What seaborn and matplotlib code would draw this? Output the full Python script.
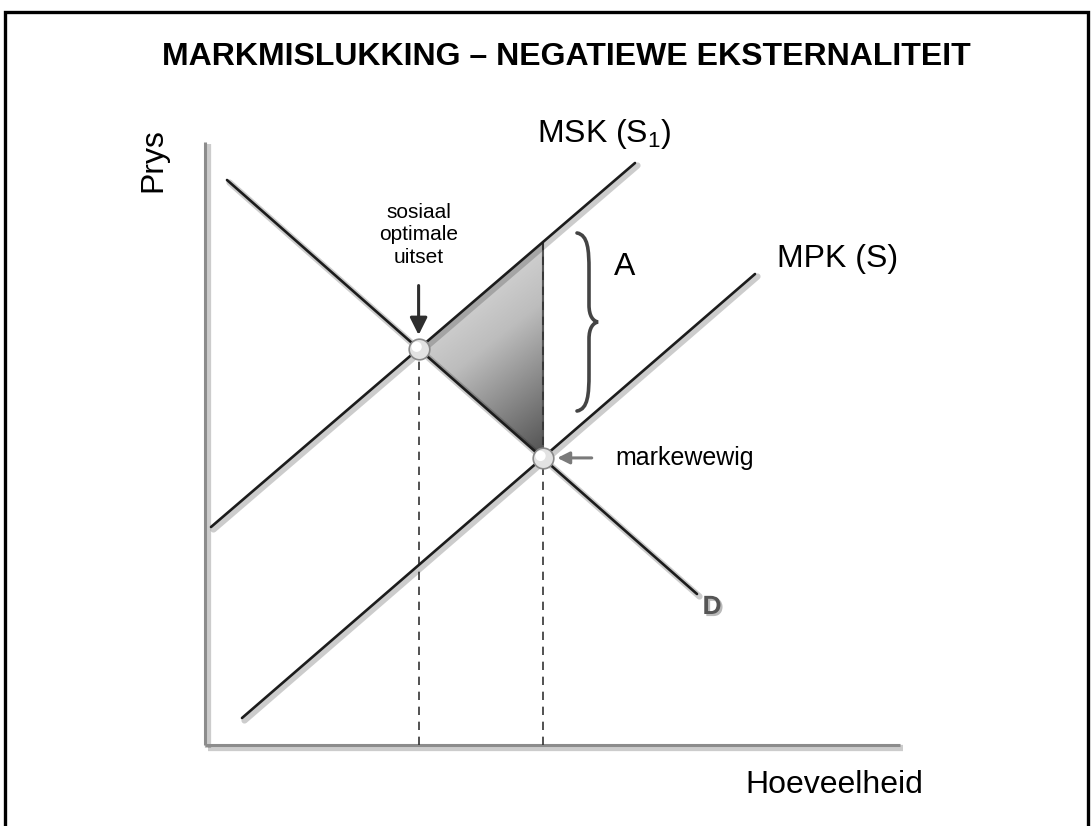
"""
Market failure diagram: negative externality (MSK vs MPK with demand D).
Run: python plot.py
"""

import numpy as np
import pandas as pd
import matplotlib
matplotlib.use("Agg")
import matplotlib.pyplot as plt
import matplotlib.patheffects as pe
from matplotlib.path import Path
from matplotlib.patches import PathPatch, Polygon, Rectangle
import seaborn as sns

# --- curve end points (quantity, price) ---
demand_q = [2.2, 49.2]
demand_p = [56.5, 15.1]
msk_q = [0.6, 43.0]
msk_p = [21.8, 58.2]
mpk_q = [3.7, 55.0]
mpk_p = [2.7, 47.1]
axis_q_max = 69.5
axis_p_max = 60.3

title = "MARKMISLUKKING – NEGATIEWE EKSTERNALITEIT"

sns.set_theme(style="white")
plt.rcParams["font.family"] = ["Liberation Sans", "DejaVu Sans"]
plt.rcParams["text.color"] = "black"
plt.rcParams["mathtext.fontset"] = "custom"
plt.rcParams["mathtext.rm"] = "Liberation Sans"
plt.rcParams["mathtext.it"] = "Liberation Sans"


def line_fit(qs, ps):
    slope = (ps[1] - ps[0]) / (qs[1] - qs[0])
    return slope, ps[0] - slope * qs[0]


def intersect(a, b):
    q = (b[1] - a[1]) / (a[0] - b[0])
    return q, a[0] * q + a[1]


d_line = line_fit(demand_q, demand_p)
msk_line = line_fit(msk_q, msk_p)
mpk_line = line_fit(mpk_q, mpk_p)
q_opt, p_opt = intersect(d_line, msk_line)
q_eq, p_eq = intersect(d_line, mpk_line)
p_top = msk_line[0] * q_eq + msk_line[1]

fig = plt.figure(figsize=(10.92, 8.26), dpi=100)
ax = fig.add_axes([0, 0, 1, 1])
ax.set_xlim(-20.5, 88.7)
ax.set_ylim(-8.1, 74.5)
ax.axis("off")

shadow = [pe.SimpleLineShadow(offset=(1.8, -1.8), shadow_color="k", alpha=0.22, linewidth=4.5),
          pe.Normal()]

# frame round the whole picture
fig.patches.append(Rectangle((5 / 1092, -0.05), (1088 - 5) / 1092, 1.05 - 12 / 826,
                             transform=fig.transFigure, fill=False, lw=2.4, ec="black"))

fig.text(566 / 1092, 1 - 57 / 826, title, ha="center", va="center",
         fontsize=23, fontweight="bold")

# --- axes ---
ax.plot([0, 0], [0, axis_p_max], color="#8c8c8c", lw=2.2, solid_capstyle="butt",
        path_effects=shadow, zorder=2)
ax.plot([0, axis_q_max], [0, 0], color="#8c8c8c", lw=2.2, solid_capstyle="butt",
        path_effects=shadow, zorder=2)

# --- shaded deadweight triangle with gradient ---
tri = Polygon([[q_opt, p_opt], [q_eq, p_top], [q_eq, p_eq]], closed=True,
              fc="none", ec="none")
ax.add_patch(tri)
gq, gp = np.meshgrid(np.linspace(q_opt, q_eq, 200), np.linspace(p_top, p_eq, 200))
grad = 0.45 * (gq - q_opt) / (q_eq - q_opt) + (p_top - gp) / (p_top - p_eq)
grad = grad / grad.max()
img = ax.imshow(grad, extent=[q_opt, q_eq, p_eq, p_top], origin="upper",
                cmap=sns.blend_palette(["#eeeeee", "#bdbdbd", "#505050"], as_cmap=True),
                aspect="auto", zorder=1, interpolation="bilinear")
img.set_clip_path(tri)
ax.plot([q_eq, q_eq], [p_eq, p_top], color="#555555", lw=1.5, zorder=1)

# --- dashed guides ---
ax.plot([q_opt, q_opt], [0, p_opt], color="#333333", lw=1.2, ls=(0, (5, 4)), zorder=2)
ax.plot([q_eq, q_eq], [0, p_top], color="#333333", lw=1.2, ls=(0, (5, 4)), zorder=2)

# --- curves ---
curves = pd.DataFrame({
    "curve": ["D", "D", "MSK", "MSK", "MPK", "MPK"],
    "q": demand_q + msk_q + mpk_q,
    "p": demand_p + msk_p + mpk_p,
})
for name, grp in curves.groupby("curve"):
    sns.lineplot(data=grp, x="q", y="p", ax=ax, color="#1c1c1c", lw=1.9,
                 sort=False, estimator=None, legend=False, zorder=3)
for ln in ax.lines[-3:]:
    ln.set_path_effects(shadow)

# --- equilibrium points ---
ax.scatter([q_opt, q_eq], [p_opt, p_eq], s=220, c="#e2e2e2", edgecolors="#8a8a8a",
           linewidths=1.2, zorder=5)
ax.scatter([q_opt - 0.2, q_eq - 0.2], [p_opt + 0.2, p_eq + 0.2], s=55, c="white",
           edgecolors="none", zorder=6)

# --- arrows and labels ---
ax.annotate("", xy=(q_opt, p_opt + 1.1), xytext=(q_opt, p_opt + 6.6),
            arrowprops=dict(arrowstyle="-|>", color="#2e2e2e", lw=2.2, mutation_scale=26))
ax.text(q_opt, 51.0, "sosiaal\noptimale\nuitset", ha="center", va="center",
        fontsize=15, linespacing=1.25)

ax.annotate("", xy=(q_eq + 1.2, p_eq), xytext=(q_eq + 5.2, p_eq),
            arrowprops=dict(arrowstyle="-|>", color="#7a7a7a", lw=2.2, mutation_scale=18))
ax.text(41.0, p_eq, "markewewig", ha="left", va="center", fontsize=18)

brace = Path(
    [(37.2, 51.2), (38.3, 51.0), (38.4, 49.5), (38.4, 47.5),
     (38.4, 44.0),
     (38.4, 42.9), (38.8, 42.4), (39.3, 42.3),
     (38.8, 42.2), (38.4, 41.7), (38.4, 40.6),
     (38.4, 37.1),
     (38.4, 35.1), (38.3, 33.6), (37.2, 33.4)],
    [Path.MOVETO, Path.CURVE4, Path.CURVE4, Path.CURVE4,
     Path.LINETO,
     Path.CURVE4, Path.CURVE4, Path.CURVE4,
     Path.CURVE4, Path.CURVE4, Path.CURVE4,
     Path.LINETO,
     Path.CURVE4, Path.CURVE4, Path.CURVE4])
ax.add_patch(PathPatch(brace, fc="none", ec="#444444", lw=2.6, capstyle="round", zorder=3))
ax.text(42.0, 47.0, "A", ha="center", va="baseline", fontsize=23)

ax.text(46.7, 60.3, "MSK (S$_1$)", ha="right", va="baseline", fontsize=23)
ax.text(57.2, 47.8, "MPK (S)", ha="left", va="baseline", fontsize=23)
ax.text(50.7, 13.8, "D", ha="center", va="center", fontsize=19, fontweight="bold",
        color="#555555",
        path_effects=[pe.withSimplePatchShadow(offset=(1.5, -1.5), alpha=0.3)])

ax.text(-5.2, 58.5, "Prys", rotation=90, ha="center", va="center", fontsize=23)
ax.text(71.8, -4.8, "Hoeveelheid", ha="right", va="baseline", fontsize=23)

fig.savefig("out.png", dpi=100)
